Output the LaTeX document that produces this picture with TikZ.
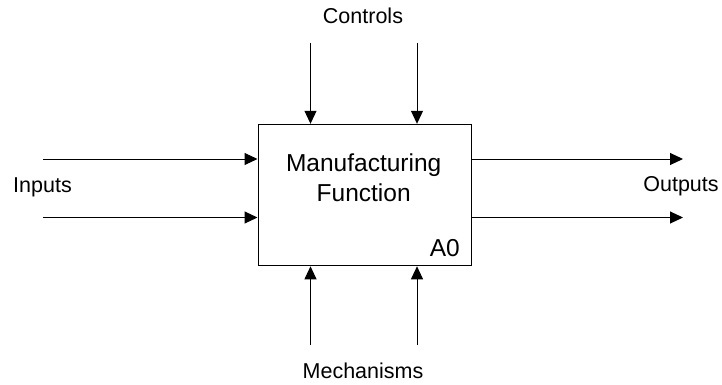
\documentclass[tikz,border=0pt]{standalone}
\usepackage{fontspec}
\setmainfont{Liberation Sans}
\usetikzlibrary{arrows.meta}
\begin{document}
\begin{tikzpicture}[x=1pt,y=-1pt,
  flow/.style={draw=black,line width=1pt,-{Triangle[length=13pt,width=12pt]}},
  fnbox/.style={draw=black,line width=1pt,fill=white},
  lbl/.style={font=\fontsize{21.5}{26}\selectfont,inner sep=0pt},
  title/.style={font=\fontsize{24.5}{30}\selectfont,align=center,inner sep=0pt}]
\useasboundingbox (0,0) rectangle (722,385);
% function box
\node[fnbox,minimum width=213pt,minimum height=141.5pt,inner sep=0pt,anchor=north west] (fn) at (257.5,123.8) {};
\node[title,anchor=base] (name1) at (363.7,171.7) {Manufacturing};
\node[title,anchor=base] (name2) at (363.7,201.7) {Function};
\node[title,anchor=base east] (num) at (460,256.7) {A0};
% free ends of the connectors
\coordinate (in1) at (43,159);
\coordinate (in2) at (43,217.5);
\coordinate (out1) at (683,159);
\coordinate (out2) at (683,217.5);
\coordinate (c1) at (310.5,43);
\coordinate (c2) at (417,43);
\coordinate (m1) at (310.5,345);
\coordinate (m2) at (417,345);
% connectors
\draw[flow] (in1) -- (in1 -| fn.west);
\draw[flow] (in2) -- (in2 -| fn.west);
\draw[flow] (out1 -| fn.east) -- (out1);
\draw[flow] (out2 -| fn.east) -- (out2);
\draw[flow] (c1) -- (c1 |- fn.north);
\draw[flow] (c2) -- (c2 |- fn.north);
\draw[flow] (m1) -- (m1 |- fn.south);
\draw[flow] (m2) -- (m2 |- fn.south);
% labels
\node[lbl] (controls) at (363,16) {Controls};
\node[lbl] (mechanisms) at (363,371) {Mechanisms};
\node[lbl] (inputs) at (42.5,187) {Inputs};
\node[lbl] (outputs) at (681,186) {Outputs};
\end{tikzpicture}
\end{document}
